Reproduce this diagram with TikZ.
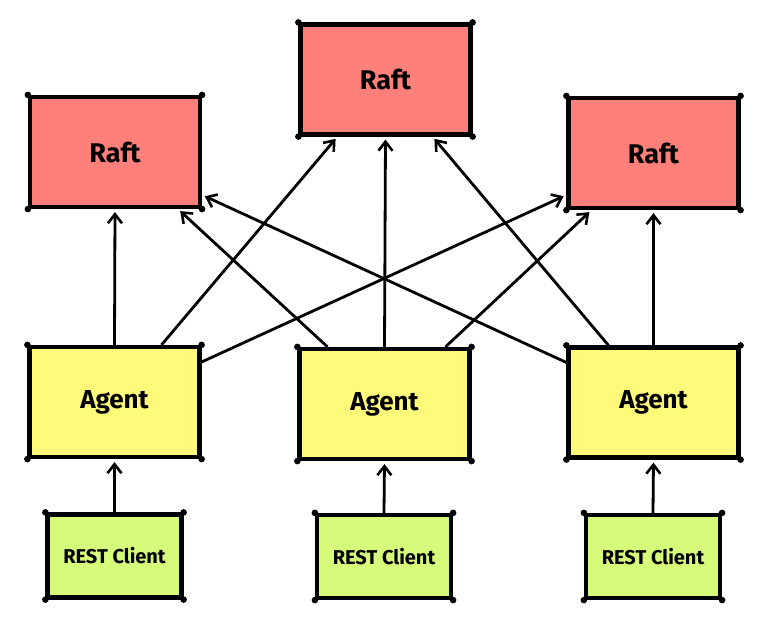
\documentclass[tikz,border=0pt]{standalone}
\usepackage{fontspec}
\setmainfont{Fira Sans}
\usetikzlibrary{arrows.meta}
\definecolor{raftc}{RGB}{255,128,122}
\definecolor{agentc}{RGB}{255,250,122}
\definecolor{restc}{RGB}{214,250,122}
\tikzset{
  box/.style={draw=black, line width=4.2pt, rectangle, inner sep=0pt, font=\bfseries},
  raftbox/.style={box, fill=raftc, minimum width=170pt, minimum height=110pt, font=\bfseries\fontsize{27}{30}\selectfont},
  agentbox/.style={box, fill=agentc, minimum width=170pt, minimum height=110pt, font=\bfseries\fontsize{26}{29}\selectfont},
  restbox/.style={box, fill=restc, minimum width=134pt, minimum height=83pt, font=\bfseries\fontsize{20}{23}\selectfont},
  conn/.style={line width=2.8pt, -{Straight Barb[length=9pt, width=14pt, line width=2.6pt]}, shorten >=3pt},
  dot/.style={fill=black}
}
\begin{document}
\begin{tikzpicture}[x=1pt, y=-1pt]
\useasboundingbox (0,0) rectangle (769,617);
\node[raftbox] (lr) at (115,152) {Raft};
\node[raftbox] (tr) at (385.5,79.5) {Raft};
\node[raftbox] (rr) at (653.5,153) {Raft};
\node[agentbox] (la) at (114.5,402) {Agent};
\node[agentbox] (ma) at (384.5,404) {Agent};
\node[agentbox] (ra) at (653.5,402.5) {Agent};
\node[restbox] (lc) at (114.5,556) {REST Client};
\node[restbox] (mc) at (384,556.5) {REST Client};
\node[restbox] (rc) at (653,556.5) {REST Client};
\foreach \n in {lr,tr,rr,la,ma,ra,lc,mc,rc}{
  \foreach \a in {north west,north east,south west,south east}{
    \fill[dot] (\n.\a) circle (3.3pt);
  }
}
% left agent
\draw[conn] (la.north) -- (lr.south);
\draw[conn] ([xshift=47pt]la.north) -- ([xshift=-48pt]tr.south);
\draw[conn] ([yshift=40pt]la.east) -- ([yshift=-42pt]rr.west);
% middle agent
\draw[conn] ([xshift=-57pt]ma.north) -- ([xshift=63pt]lr.south);
\draw[conn] (ma.north) -- (tr.south);
\draw[conn] ([xshift=61pt]ma.north) -- ([xshift=-62pt]rr.south);
% right agent
\draw[conn] ([yshift=40pt]ra.west) -- ([yshift=-43pt]lr.east);
\draw[conn] ([xshift=-45pt]ra.north) -- ([xshift=47pt]tr.south);
\draw[conn] (ra.north) -- (rr.south);
% clients
\draw[conn] (lc.north) -- (la.south);
\draw[conn] (mc.north) -- (ma.south);
\draw[conn] (rc.north) -- (ra.south);
\end{tikzpicture}
\end{document}
